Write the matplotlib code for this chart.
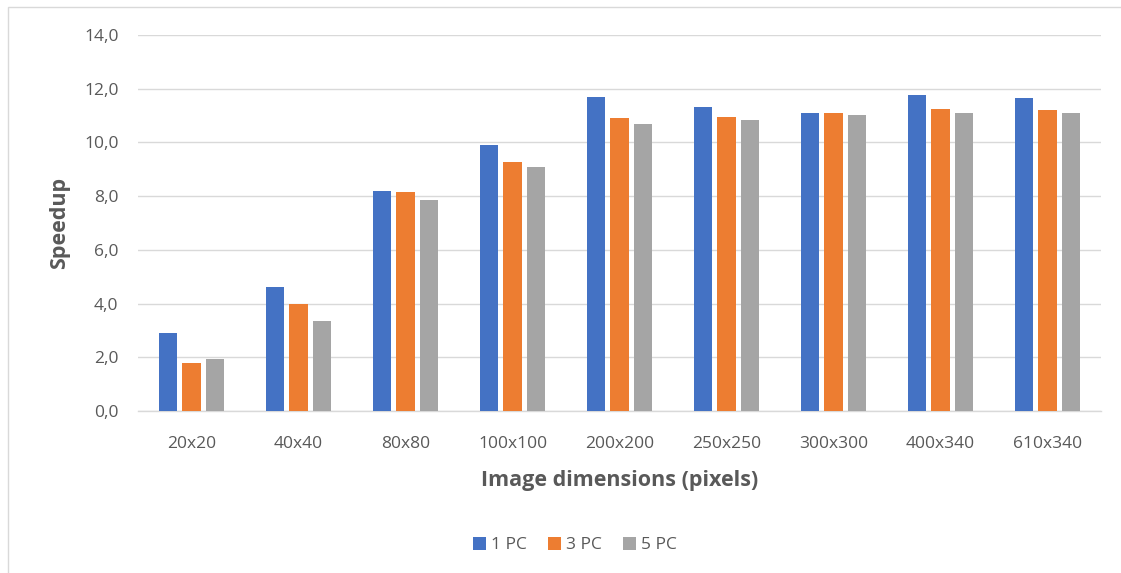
import matplotlib
matplotlib.use("Agg")
import matplotlib.pyplot as plt
import numpy as np
from matplotlib.patches import Rectangle
from matplotlib.ticker import FuncFormatter

CATEGORIES = ["20x20", "40x40", "80x80", "100x100", "200x200",
              "250x250", "300x300", "400x340", "610x340"]
SERIES = ["1 PC", "3 PC", "5 PC"]
PC1 = [2.92, 4.63, 8.19, 9.89, 11.69, 11.33, 11.10, 11.78, 11.67]
PC3 = [1.79, 3.99, 8.15, 9.27, 10.92, 10.93, 11.10, 11.25, 11.21]
PC5 = [1.95, 3.37, 7.85, 9.09, 10.69, 10.82, 11.02, 11.10, 11.08]
COLORS = ["#4472C4", "#ED7D31", "#A5A5A5"]

TEXT = "#595959"
GRID = "#D9D9D9"

plt.rcParams["font.family"] = ["Open Sans", "DejaVu Sans"]

fig = plt.figure(figsize=(11.21, 5.73), dpi=100)
ax = fig.add_axes([0.1231, 0.2827, 0.8591, 0.6562])

# chart border like the office frame
fig.patches.append(Rectangle((8 / 1121, -0.1), 1.2, 1 - 7 / 573 + 0.1,
                             transform=fig.transFigure, fill=False,
                             edgecolor=GRID, linewidth=1.0))

x = np.arange(len(CATEGORIES))
step = 0.22
width = 0.175
for i, (vals, name, col) in enumerate(zip([PC1, PC3, PC5], SERIES, COLORS)):
    ax.bar(x + (i - 1) * step, vals, width=width, color=col, label=name, zorder=3)

ax.set_xlim(-0.5, len(CATEGORIES) - 0.5)
ax.set_ylim(0, 14)
ax.set_yticks(np.arange(0, 15, 2))
ax.yaxis.set_major_formatter(FuncFormatter(lambda v, _: f"{v:.1f}".replace(".", ",")))
ax.set_xticks(x)
ax.set_xticklabels(CATEGORIES)

ax.grid(axis="y", color=GRID, linewidth=1.0, zorder=0)
for s in ["top", "right", "left"]:
    ax.spines[s].set_visible(False)
ax.spines["bottom"].set_color(GRID)
ax.spines["bottom"].set_linewidth(1.0)
ax.tick_params(axis="both", length=0, colors=TEXT, labelsize=12.5)
ax.tick_params(axis="y", pad=14)
ax.tick_params(axis="x", pad=18)

ax.set_xlabel("Image dimensions (pixels)", fontsize=15.5, fontweight="bold",
              color=TEXT, labelpad=13)
ax.set_ylabel("Speedup", fontsize=15.5, fontweight="bold", color=TEXT, labelpad=10)

fig.legend(loc="center", bbox_to_anchor=(575 / 1121, 1 - 545 / 573), ncol=3,
           frameon=False, fontsize=12.5, handlelength=0.75, handleheight=0.75,
           handletextpad=0.3, columnspacing=1.2, labelcolor=TEXT)

fig.savefig("out.png", dpi=100, facecolor="white")
